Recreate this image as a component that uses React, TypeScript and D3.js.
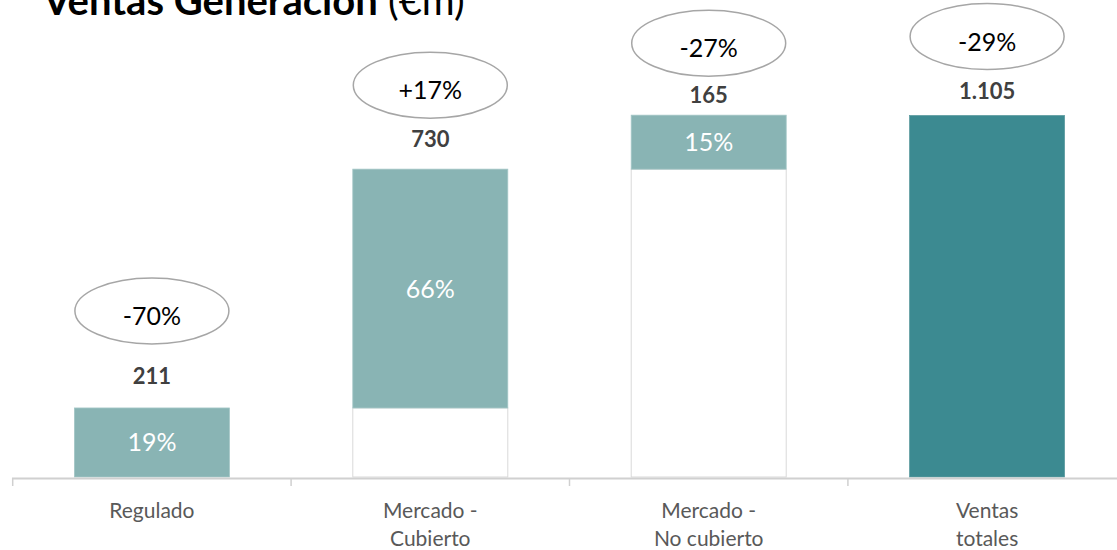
import React from "react";
import * as d3 from "d3";

const categories: string[][] = [["Regulado"], ["Mercado -", "Cubierto"], ["Mercado -", "No cubierto"], ["Ventas", "totales"]];
const values: number[] = [211, 730, 165, 1105];
const isTotal: boolean[] = [false, false, false, true];
const valueLabels: string[] = ["211", "730", "165", "1.105"];
const shareLabels: string[] = ["19%", "66%", "15%", ""];
const changeLabels: string[] = ["-70%", "+17%", "-27%", "-29%"];

// annotation layout offsets (pixels above bar top)
const labelGap = [32, 30, 20, 24];
const ellipseGap = [97, 84, 72, 79];

const W = 1117;
const H = 550;
const FONT = "Lato, 'Carlito', Calibri, 'Open Sans', sans-serif";
const LIGHT = "#89b4b4";
const DARK = "#3c8a91";

export default function App() {
  const x = d3.scaleBand<number>().domain(d3.range(categories.length)).range([12.7, 12.7 + 278.4 * 4]).paddingInner(0).paddingOuter(0);
  const y = d3.scaleLinear().domain([0, 1105]).range([477, 115.5]);
  const barW = 155;

  let cum = 0;
  const bars = values.map((v, i) => {
    const base = isTotal[i] ? 0 : cum;
    const top = base + v;
    if (!isTotal[i]) cum = top;
    return { i, base, top, v };
  });

  return (
    <svg width={W} height={H} style={{ position: "absolute", left: 0, top: 0, background: "#fff" }} fontFamily={FONT}>
      <text x={43} y={15} fontSize={40} fill="#000">
        <tspan fontWeight="bold">Ventas Generación</tspan>
        <tspan> (€m)</tspan>
      </text>
      {bars.map((b) => {
        const cx = x(b.i)! + x.bandwidth() / 2;
        const x0 = cx - barW / 2;
        return (
          <g key={b.i}>
            {b.base > 0 && (
              <rect x={x0} y={y(b.base)} width={barW} height={y(0) - y(b.base)} fill="#fff" stroke="#d9d9d9" strokeWidth={1} />
            )}
            <rect x={x0} y={y(b.top)} width={barW} height={y(b.base) - y(b.top)} fill={isTotal[b.i] ? DARK : LIGHT} stroke={isTotal[b.i] ? "#5e9ca1" : "#a3c6c6"} strokeWidth={0.8} />
            {shareLabels[b.i] && (
              <text x={cx} y={(y(b.top) + y(b.base)) / 2} dy="0.36em" textAnchor="middle" fontSize={25} fill="#fff">
                {shareLabels[b.i]}
              </text>
            )}
            <text x={cx} y={y(b.top) - labelGap[b.i]} dy="0.36em" textAnchor="middle" fontSize={22} fontWeight="bold" fill="#404040">
              {valueLabels[b.i]}
            </text>
            <ellipse cx={cx} cy={y(b.top) - ellipseGap[b.i]} rx={77} ry={33} fill="#fff" stroke="#a6a6a6" strokeWidth={1.5} />
            <text x={cx} y={y(b.top) - ellipseGap[b.i] + 5} dy="0.36em" textAnchor="middle" fontSize={25} fill="#000">
              {changeLabels[b.i]}
            </text>
          </g>
        );
      })}
      <line x1={12} x2={W} y1={478.5} y2={478.5} stroke="#d0d0d0" strokeWidth={2} />
      {d3.range(categories.length + 1).map((k) => {
        const tx = 12.7 + k * x.step();
        return <line key={k} x1={tx} x2={tx} y1={478} y2={486} stroke="#d0d0d0" strokeWidth={1.5} />;
      })}
      {categories.map((lines, i) => {
        const cx = x(i)! + x.bandwidth() / 2;
        return (
          <text key={i} textAnchor="middle" fontSize={21} fill="#595959">
            {lines.map((l, j) => (
              <tspan key={j} x={cx} y={510 + j * 28} dy="0.36em">
                {l}
              </tspan>
            ))}
          </text>
        );
      })}
    </svg>
  );
}
